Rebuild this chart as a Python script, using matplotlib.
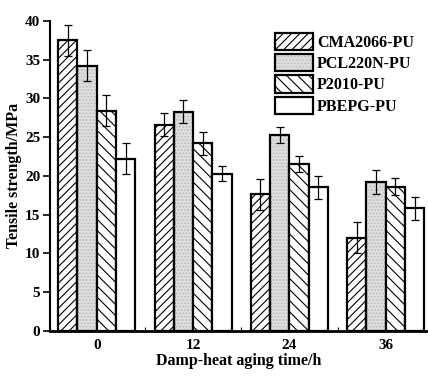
import matplotlib
matplotlib.use("Agg")
import matplotlib.pyplot as plt
import numpy as np
from matplotlib.patches import Patch

plt.rcParams['font.family'] = ['Liberation Serif', 'DejaVu Serif']
plt.rcParams['font.weight'] = 'bold'
plt.rcParams['hatch.linewidth'] = 0.8

times = [0, 12, 24, 36]
series = ['CMA2066-PU', 'PCL220N-PU', 'P2010-PU', 'PBEPG-PU']
values = {
    'CMA2066-PU': [37.5, 26.6, 17.6, 12.0],
    'PCL220N-PU': [34.2, 28.3, 25.3, 19.2],
    'P2010-PU':   [28.4, 24.2, 21.5, 18.6],
    'PBEPG-PU':   [22.2, 20.3, 18.5, 15.8],
}
errors = {
    'CMA2066-PU': [2.0, 1.5, 2.0, 2.0],
    'PCL220N-PU': [2.0, 1.5, 1.0, 1.5],
    'P2010-PU':   [2.0, 1.5, 1.0, 1.1],
    'PBEPG-PU':   [2.0, 1.0, 1.5, 1.5],
}
hatches = ['////', '', '\\\\\\', '']
faces = ['white', '#dedede', 'white', 'white']

fig = plt.figure(figsize=(4.28, 3.77), dpi=100)
ax = fig.add_axes([50/428, 1-330.7/377, 1-50/428, (330.7-21)/377])

width = 2.4
offsets = [-3.6, -1.2, 1.2, 3.6]
x = np.array(times, dtype=float)
handles = []
for i, s in enumerate(series):
    if s == 'PCL220N-PU':
        ax.bar(x + offsets[i], values[s], width, color=faces[i], hatch='.....',
               edgecolor='#bdbdbd', linewidth=0, zorder=2)
        ax.bar(x + offsets[i], values[s], width, fill=False,
               edgecolor='black', linewidth=1.6, zorder=3)
        handles.append((Patch(facecolor=faces[i], hatch='.....', edgecolor='#bdbdbd', linewidth=0),
                        Patch(fill=False, edgecolor='black', linewidth=1.6)))
    else:
        ax.bar(x + offsets[i], values[s], width, color=faces[i], hatch=hatches[i],
               edgecolor='black', linewidth=1.6, zorder=3)
        handles.append(Patch(facecolor=faces[i], hatch=hatches[i], edgecolor='black', linewidth=1.6))
    ax.errorbar(x + offsets[i], values[s], yerr=errors[s], fmt='none',
                ecolor='black', elinewidth=0.9, capsize=3, capthick=0.9, zorder=4)

ax.set_xlim(-5.82, 41.27)
ax.set_ylim(0, 40)
ax.set_yticks(np.arange(0, 41, 5))
ax.set_xticks(times)
ax.set_xticks([6, 18, 30], minor=True)
ax.tick_params(axis='x', which='major', length=0, pad=6, labelsize=11)
ax.tick_params(axis='x', which='minor', direction='in', length=3, width=0.8)
ax.tick_params(axis='y', which='major', direction='out', length=5, width=1.2, labelsize=11, pad=2)
for lab in ax.get_xticklabels() + ax.get_yticklabels():
    lab.set_fontweight('bold')

ax.spines['top'].set_visible(False)
ax.spines['right'].set_visible(False)
ax.spines['left'].set_linewidth(1.5)
ax.spines['bottom'].set_linewidth(2.0)

ax.set_xlabel('Damp-heat aging time/h', fontsize=11.5, fontweight='bold', labelpad=1)
ax.set_ylabel('Tensile strength/MPa', fontsize=11.5, fontweight='bold', labelpad=2)

leg = ax.legend(handles, series, loc='upper left', bbox_to_anchor=(0.594, 0.962),
                bbox_transform=ax.transAxes, frameon=False, fontsize=11.5,
                handlelength=2.4, handleheight=1.3, handletextpad=0.25, labelspacing=0.2,
                borderaxespad=0, borderpad=0)
for t in leg.get_texts():
    t.set_fontweight('bold')

fig.savefig('out.png', dpi=100)
